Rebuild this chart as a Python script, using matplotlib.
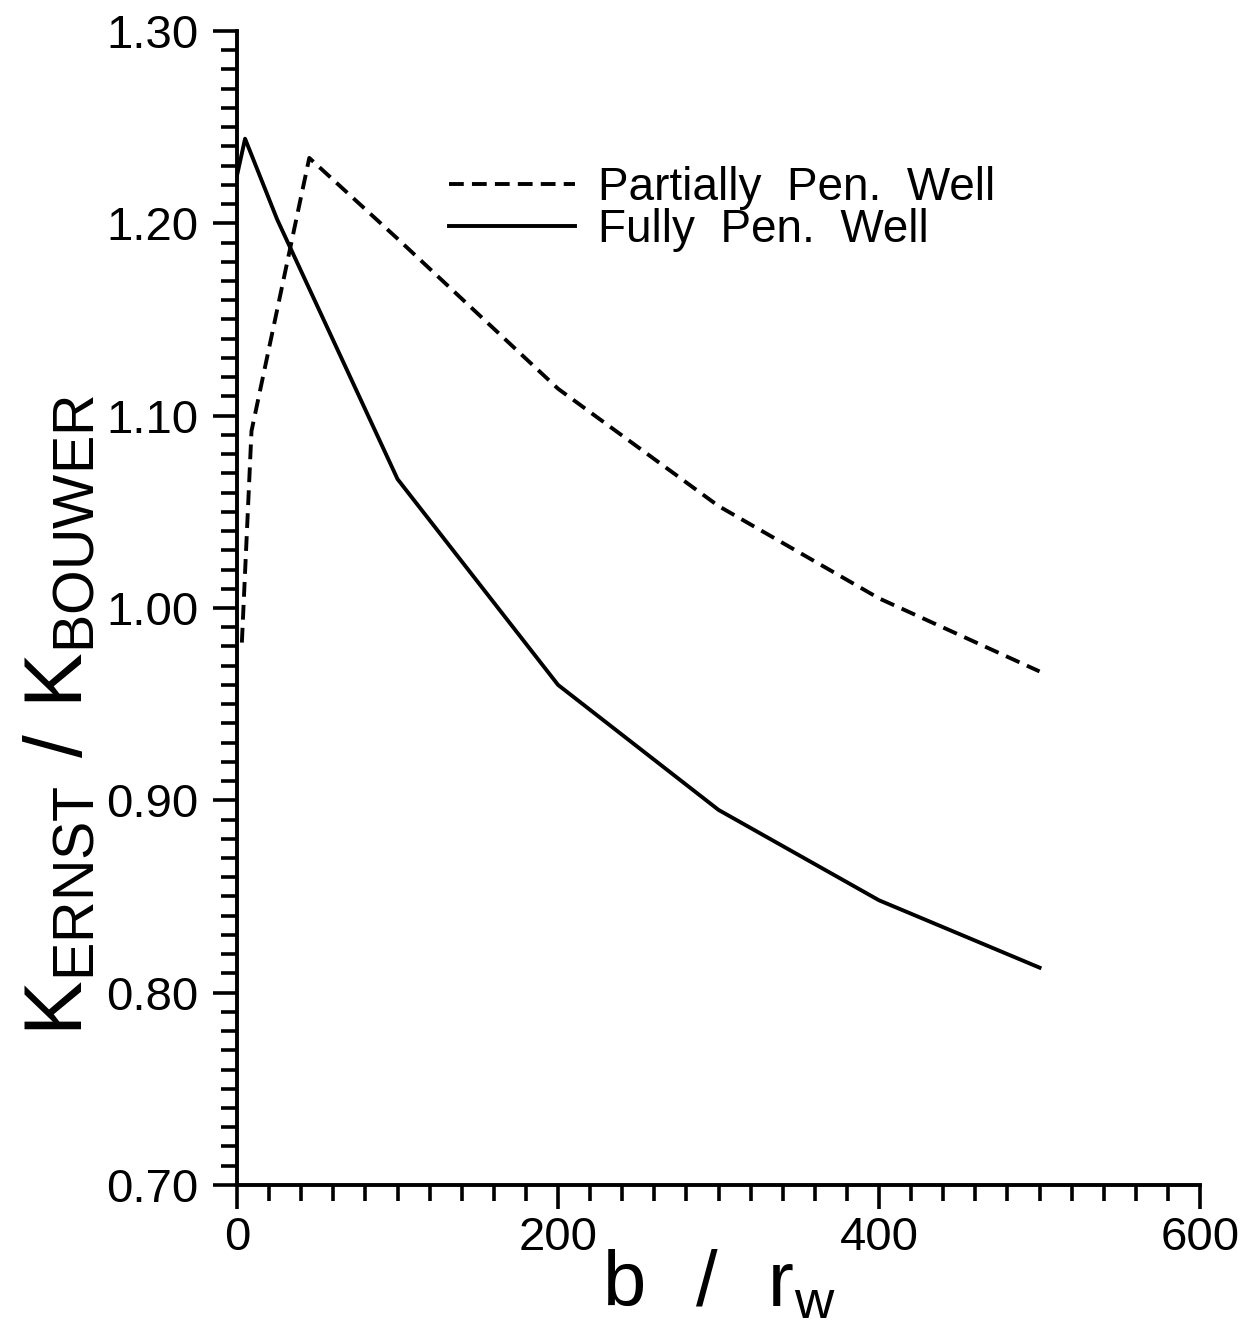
import matplotlib
matplotlib.use("Agg")
import matplotlib.pyplot as plt
from matplotlib.ticker import MultipleLocator, FormatStrFormatter

# b/rw values and K_Ernst/K_Bouwer ratios
x_partial = [3, 9, 45, 100, 200, 300, 400, 500]
y_partial = [0.982, 1.092, 1.234, 1.192, 1.114, 1.053, 1.005, 0.967]

x_fully = [0, 5, 25, 50, 100, 200, 300, 400, 500]
y_fully = [1.225, 1.244, 1.202, 1.157, 1.067, 0.960, 0.895, 0.848, 0.813]

labels = ["Partially  Pen.  Well", "Fully  Pen.  Well"]

plt.rcParams['font.family'] = ['Liberation Sans', 'DejaVu Sans']

fig = plt.figure(figsize=(12.45, 13.25), dpi=100)
ax = fig.add_axes([0.1904, 0.1057, 0.7735, 0.8709])

ax.plot(x_partial, y_partial, c="black", lw=2.8, ls=(0, (3.8, 2.1)), label=labels[0])
ax.plot(x_fully, y_fully, c="black", lw=2.8, label=labels[1])

ax.set_xlim(0, 600)
ax.set_ylim(0.70, 1.30)
ax.xaxis.set_major_locator(MultipleLocator(200))
ax.xaxis.set_minor_locator(MultipleLocator(20))
ax.yaxis.set_major_locator(MultipleLocator(0.1))
ax.yaxis.set_minor_locator(MultipleLocator(0.01))
ax.yaxis.set_major_formatter(FormatStrFormatter("%.2f"))

for side in ["top", "right"]:
    ax.spines[side].set_visible(False)
for side in ["left", "bottom"]:
    ax.spines[side].set_linewidth(2.8)

ax.tick_params(which="major", direction="out", length=17, width=2.6, labelsize=34)
ax.tick_params(which="minor", direction="out", length=11.5, width=2.6)
ax.tick_params(axis="y", which="major", pad=11)
ax.tick_params(axis="x", which="major", pad=5)

ax.set_xlabel(r"$\mathregular{b\ \ /\ \ r_w}$", fontsize=56)
ax.xaxis.set_label_coords(0.5, -0.056)
fig.text(62 / 1245, 1 - 715 / 1325,
         r"$\mathregular{K_{ERNST}\ /\ K_{BOUWER}}$",
         fontsize=59, rotation=90, ha="center", va="center")

ax.legend(loc="upper left", bbox_to_anchor=(0.177, 0.919), frameon=False,
          fontsize=33, handlelength=2.75, handletextpad=0.5,
          labelspacing=-0.04)

fig.savefig("out.png", dpi=100)
